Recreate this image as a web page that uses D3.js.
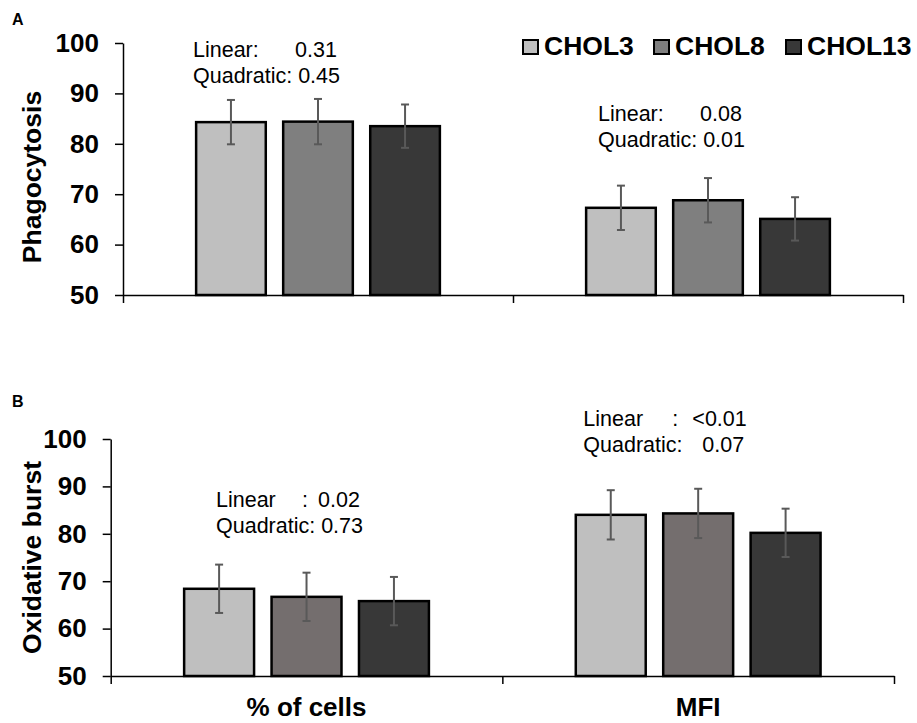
<!DOCTYPE html>
<html>
<head>
<meta charset="utf-8">
<script src="https://cdn.jsdelivr.net/npm/d3@7"></script>
<style>
  body { margin: 0; background: #fff; }
  svg { font-family: "Liberation Sans", Arial, sans-serif; }
</style>
</head>
<body>
<div id="chart"></div>
<script>
// categories and series
const categories = ["% of cells", "MFI"];
const series = ["CHOL3", "CHOL8", "CHOL13"];
const yTicks = [50, 60, 70, 80, 90, 100];

// panel A: phagocytosis (mean, error)
const phagoMean = [[84.3, 84.4, 83.5], [67.3, 68.8, 65.1]];
const phagoErr = [[4.4, 4.5, 4.3], [4.4, 4.4, 4.3]];
const phagoStats = [
  { linear: "0.31", quad: "0.45" },
  { linear: "0.08", quad: "0.01" }
];

// panel B: oxidative burst (mean, error)
const burstMean = [[68.4, 66.7, 65.8], [84.0, 84.3, 80.2]];
const burstErr = [[5.1, 5.1, 5.1], [5.2, 5.2, 5.1]];
const burstStats = [
  { linear: "0.02", quad: "0.73" },
  { linear: "<0.01", quad: "0.07" }
];

const width = 917, height = 723;
const svg = d3.select("#chart").append("svg")
  .attr("width", width)
  .attr("height", height);

function drawPanel(opt) {
  const x = d3.scaleBand()
    .domain(categories)
    .range([opt.left, opt.right])
    .padding(0);

  // inner scale places the three bars inside each category
  const xs = d3.scaleBand()
    .domain(series)
    .range([0, x.bandwidth()])
    .paddingInner(0.2)
    .paddingOuter(0.84);

  const y = d3.scaleLinear()
    .domain([50, 100])
    .range([opt.bottom, opt.top]);

  const g = svg.append("g");

  categories.forEach((c, ci) => {
    const grp = g.append("g").attr("transform", `translate(${x(c)},0)`);
    const rows = series.map((s, si) => ({ s, si, v: opt.mean[ci][si], e: opt.err[ci][si] }));

    grp.selectAll("rect")
      .data(rows)
      .join("rect")
      .attr("x", d => xs(d.s))
      .attr("y", d => y(d.v))
      .attr("width", xs.bandwidth())
      .attr("height", d => y(50) - y(d.v))
      .attr("fill", d => opt.colors[d.si])
      .attr("stroke", "#000")
      .attr("stroke-width", 2.5);

    // error bars
    const eb = grp.selectAll("g.err")
      .data(rows)
      .join("g")
      .attr("class", "err")
      .attr("stroke", "#595959")
      .attr("stroke-width", 2);
    eb.append("line")
      .attr("x1", d => xs(d.s) + xs.bandwidth() / 2)
      .attr("x2", d => xs(d.s) + xs.bandwidth() / 2)
      .attr("y1", d => y(d.v + d.e))
      .attr("y2", d => y(d.v - d.e));
    eb.selectAll("line.cap")
      .data(d => [d.v + d.e, d.v - d.e].map(v => ({ v, cx: xs(d.s) + xs.bandwidth() / 2 })))
      .join("line")
      .attr("class", "cap")
      .attr("x1", d => d.cx - 4)
      .attr("x2", d => d.cx + 4)
      .attr("y1", d => y(d.v))
      .attr("y2", d => y(d.v));

    // p-value annotations
    const st = opt.stats[ci];
    const a = opt.annot[ci];
    const t = grp.append("g")
      .attr("font-size", 21.5)
      .attr("fill", "#000");
    t.append("text").attr("x", a.x).attr("y", a.y).text(a.linLabel);
    if (a.cx != null) t.append("text").attr("x", a.cx).attr("y", a.y).text(":");
    t.append("text").attr("x", a.vx).attr("y", a.y).text(st.linear);
    if (a.qx != null) {
      t.append("text").attr("x", a.x).attr("y", a.y + 26).text("Quadratic:");
      t.append("text").attr("x", a.qx).attr("y", a.y + 26).text(st.quad);
    } else {
      t.append("text").attr("x", a.x).attr("y", a.y + 26).text("Quadratic: " + st.quad);
    }
  });

  // y axis
  g.append("g")
    .attr("transform", `translate(${opt.left},0)`)
    .call(d3.axisLeft(y).tickValues(yTicks).tickSize(8).tickSizeOuter(0).tickPadding(16))
    .call(a => a.selectAll("text")
      .attr("font-size", 26)
      .attr("font-weight", "bold")
      .attr("font-family", "Liberation Sans, Arial, sans-serif")
      .attr("fill", "#000"))
    .call(a => a.selectAll("line,path").attr("stroke", "#000").attr("stroke-width", 1.5));

  // x axis with ticks at category boundaries
  const xb = d3.scaleLinear().domain([0, categories.length]).range([opt.left, opt.right]);
  g.append("g")
    .attr("transform", `translate(0,${opt.bottom})`)
    .call(d3.axisBottom(xb).tickValues(d3.range(categories.length + 1)).tickSize(8).tickSizeOuter(0).tickFormat(""))
    .call(a => a.selectAll("line,path").attr("stroke", "#000").attr("stroke-width", 1.5));

  // y title
  g.append("text")
    .attr("transform", `translate(41,${(opt.top + opt.bottom) / 2 + opt.titleShift}) rotate(-90)`)
    .attr("text-anchor", "middle")
    .attr("font-size", 26.5)
    .attr("font-weight", "bold")
    .text(opt.title);

  // panel letter
  g.append("text")
    .attr("x", 12)
    .attr("y", opt.letterY)
    .attr("font-size", 16)
    .attr("font-weight", "bold")
    .text(opt.letter);

  if (opt.catLabels) {
    g.selectAll("text.cat")
      .data(categories)
      .join("text")
      .attr("class", "cat")
      .attr("x", d => x(d) + x.bandwidth() / 2)
      .attr("y", 716)
      .attr("text-anchor", "middle")
      .attr("font-size", 26)
      .attr("font-weight", "bold")
      .text(d => d);
  }
}

drawPanel({
  left: 123, right: 903, top: 43, bottom: 295,
  mean: phagoMean, err: phagoErr, stats: phagoStats,
  colors: ["#bfbfbf", "#7f7f7f", "#383838"],
  title: "Phagocytosis", titleShift: 8, letter: "A", letterY: 25,
  annot: [
    { x: 70, y: 57, vx: 172, linLabel: "Linear:" },
    { x: 85, y: 121, vx: 187, linLabel: "Linear:" }
  ],
  catLabels: false
});

drawPanel({
  left: 110.7, right: 894, top: 439, bottom: 676,
  mean: burstMean, err: burstErr, stats: burstStats,
  colors: ["#bfbfbf", "#746e6e", "#383838"],
  title: "Oxidative burst", titleShift: 0, letter: "B", letterY: 407,
  annot: [
    { x: 105.3, y: 507, cx: 191.3, vx: 207.3, linLabel: "Linear" },
    { x: 81, y: 426, cx: 170, vx: 190, qx: 200, linLabel: "Linear" }
  ],
  catLabels: true
});

// legend
const legendX = [523, 654, 786];
const colorsLegend = ["#bfbfbf", "#7f7f7f", "#383838"];
const leg = svg.append("g");
series.forEach((s, i) => {
  leg.append("rect")
    .attr("x", legendX[i])
    .attr("y", 40)
    .attr("width", 15)
    .attr("height", 14)
    .attr("fill", colorsLegend[i])
    .attr("stroke", "#000")
    .attr("stroke-width", 2);
  leg.append("text")
    .attr("x", legendX[i] + 21)
    .attr("y", 55)
    .attr("font-size", 26.5)
    .attr("font-weight", "bold")
    .text(s);
});
</script>
</body>
</html>
